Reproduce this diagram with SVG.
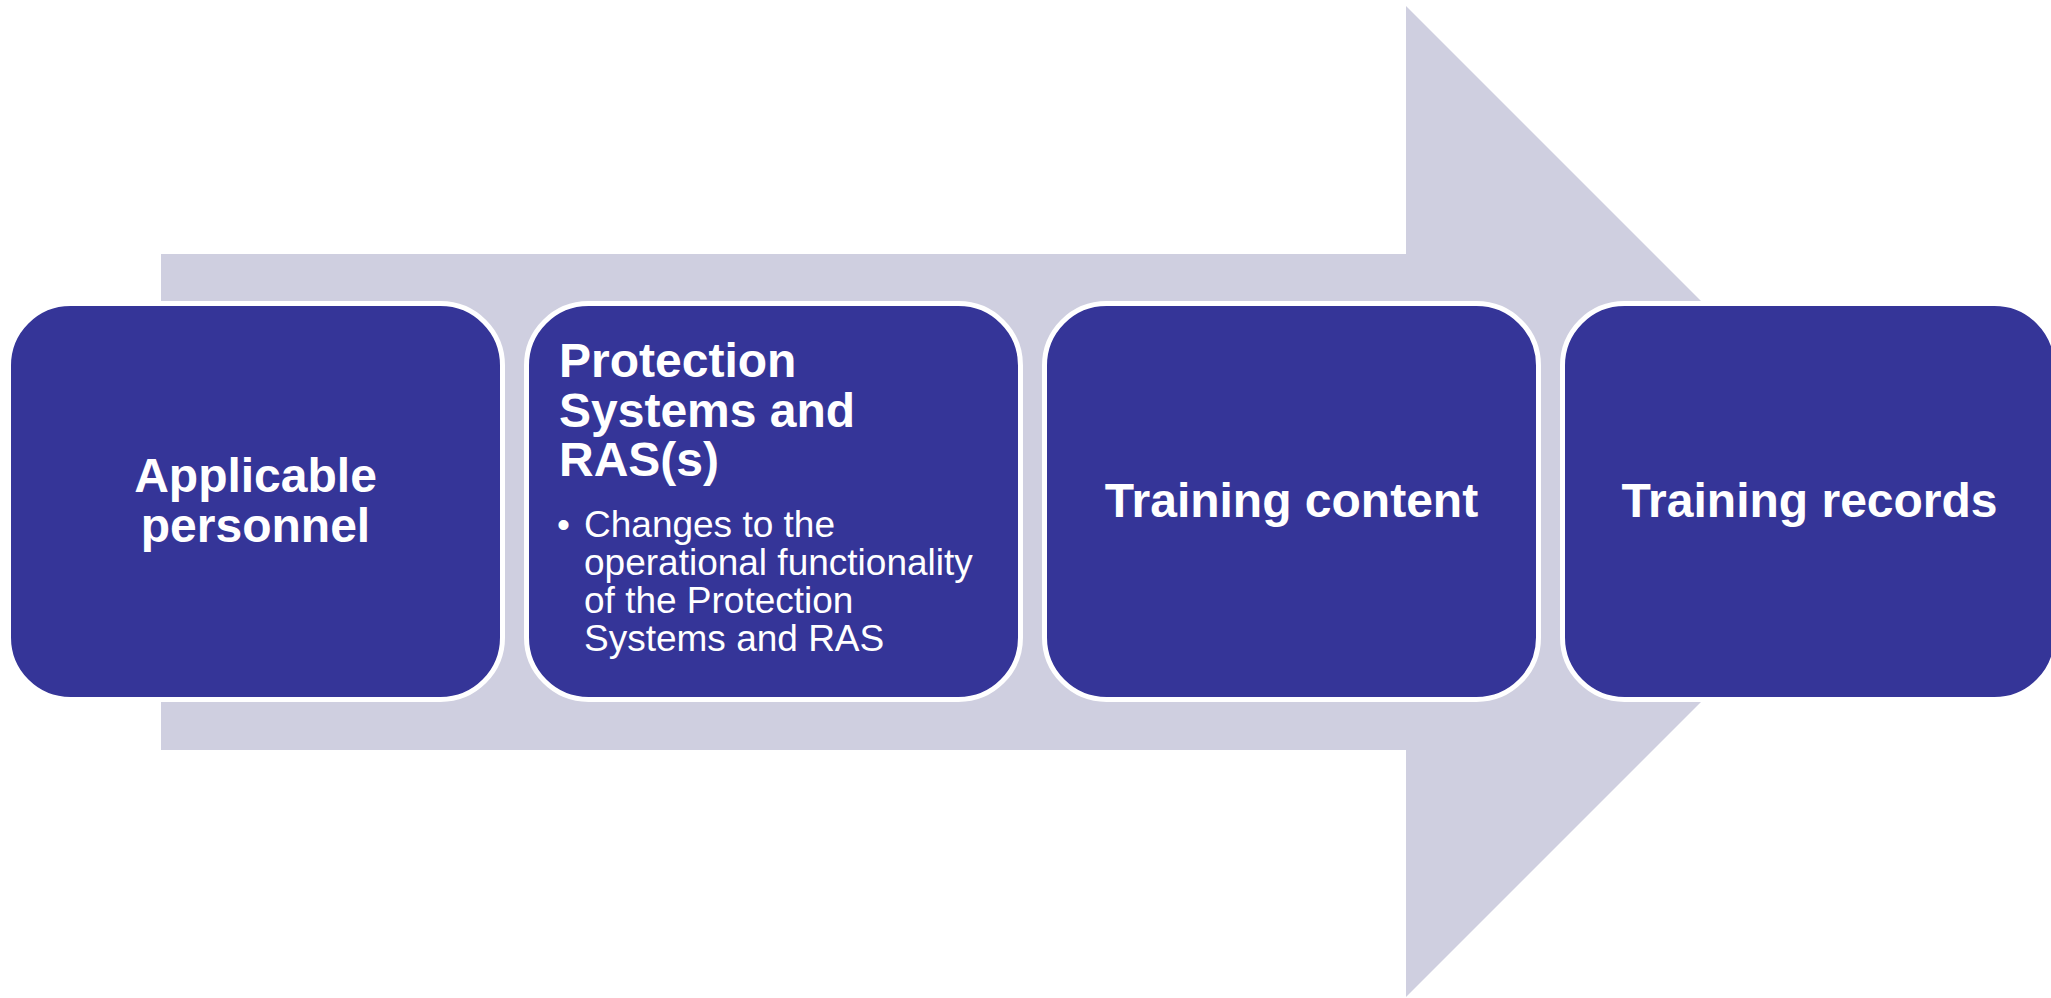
<svg xmlns="http://www.w3.org/2000/svg" width="2051" height="998" viewBox="0 0 2051 998">
  <style>
    .box { fill: #353598; stroke: #ffffff; stroke-width: 5; }
    .t { fill: #ffffff; font-family: "Liberation Sans", Arial, sans-serif; }
    .b { font-weight: bold; font-size: 48px; }
    .r { font-size: 37px; }
  </style>
  <rect width="2051" height="998" fill="#ffffff"/>
  <g id="connectors">
    <polygon points="161,254 1406,254 1406,6 1901.5,501.5 1406,997 1406,750 161,750" fill="#cfcfe0"/>
  </g>
  <g id="node1">
    <rect class="box" x="8.5" y="303.5" width="494" height="396" rx="62" ry="62"/>
    <text class="t b" text-anchor="middle" x="255.5" y="492">Applicable</text>
    <text class="t b" text-anchor="middle" x="255.5" y="542">personnel</text>
  </g>
  <g id="node2">
    <rect class="box" x="526.5" y="303.5" width="494" height="396" rx="62" ry="62"/>
    <text class="t b" x="559" y="377">Protection</text>
    <text class="t b" x="559" y="427">Systems and</text>
    <text class="t b" x="559" y="476">RAS(s)</text>
    <text class="t r" x="557" y="537">•</text>
    <text class="t r" x="584" y="537">Changes to the</text>
    <text class="t r" x="584" y="575">operational functionality</text>
    <text class="t r" x="584" y="613">of the Protection</text>
    <text class="t r" x="584" y="651">Systems and RAS</text>
  </g>
  <g id="node3">
    <rect class="box" x="1044.5" y="303.5" width="494" height="396" rx="62" ry="62"/>
    <text class="t b" text-anchor="middle" x="1291.5" y="517">Training content</text>
  </g>
  <g id="node4">
    <rect class="box" x="1562.5" y="303.5" width="494" height="396" rx="62" ry="62"/>
    <text class="t b" text-anchor="middle" x="1809.5" y="517">Training records</text>
  </g>
</svg>
